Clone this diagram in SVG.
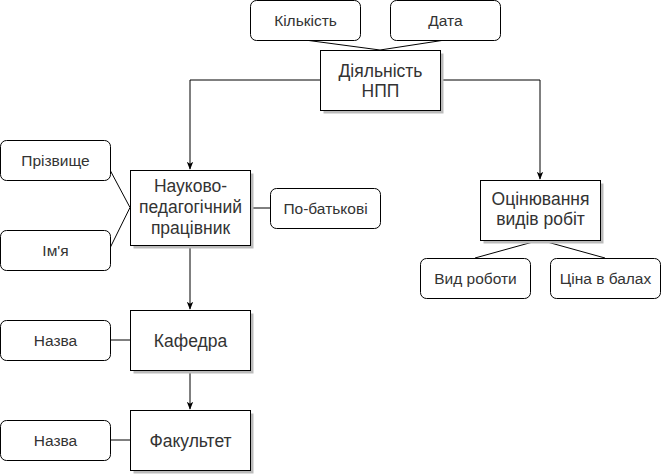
<svg xmlns="http://www.w3.org/2000/svg" width="661" height="474" viewBox="0 0 661 474">
<defs>
<style>
.ent{fill:#fff;stroke:#000;stroke-width:1}
.sh{fill:#bbb;stroke:none}
.att{fill:#fff;stroke:#000;stroke-width:1}
.t1{font-family:"Liberation Sans",Arial,sans-serif;font-size:17.5px;fill:#333;text-anchor:middle}
.t2{font-family:"Liberation Sans",Arial,sans-serif;font-size:15.5px;fill:#333;text-anchor:middle}
.c{fill:none;stroke:#000;stroke-width:1}
</style>
<marker id="arr" viewBox="0 0 10 10" refX="9" refY="5" markerWidth="8" markerHeight="8" markerUnits="userSpaceOnUse" orient="auto">
<path d="M0,1 L10,5 L0,9 L2.5,5 Z" fill="#000"/>
</marker>
</defs>
<rect width="661" height="474" fill="#fff"/>
<g id="connectors">
<path class="c" d="M305,40 L380,50"/>
<path class="c" d="M445,40 L380,50"/>
<path class="c" d="M320,80 L190,80 L190,169" marker-end="url(#arr)"/>
<path class="c" d="M440,80 L540,80 L540,179" marker-end="url(#arr)"/>
<path class="c" d="M110,170 L130,207.5"/>
<path class="c" d="M110,248 L130,207.5"/>
<path class="c" d="M250,208 L270,208"/>
<path class="c" d="M190,245 L190,309" marker-end="url(#arr)"/>
<path class="c" d="M190,370 L190,409" marker-end="url(#arr)"/>
<path class="c" d="M110,340 L130,340"/>
<path class="c" d="M110,440 L130,440"/>
<path class="c" d="M540,240 L475,258"/>
<path class="c" d="M540,240 L605,258"/>
</g>
<g id="kilkist"><rect class="att" x="250.5" y="0.5" width="110" height="40" rx="6"/><text class="t2" x="305.5" y="25.5">Кількість</text></g>
<g id="data"><rect class="att" x="390.5" y="0.5" width="110" height="40" rx="6"/><text class="t2" x="445.5" y="25.5">Дата</text></g>
<g id="diyalnist"><rect class="sh" x="323.5" y="53.5" width="120" height="60"/><rect class="ent" x="320.5" y="50.5" width="120" height="60"/><text class="t1" x="380.5" y="77">Діяльність</text><text class="t1" x="380.5" y="97">НПП</text></g>
<g id="npp"><rect class="sh" x="133.5" y="173.5" width="120" height="75"/><rect class="ent" x="130.5" y="170.5" width="120" height="75"/><text class="t1" x="190.5" y="192">Науково-</text><text class="t1" x="190.5" y="213">педагогічний</text><text class="t1" x="190.5" y="234">працівник</text></g>
<g id="prizvyshche"><rect class="att" x="0.5" y="140.5" width="110" height="40" rx="6"/><text class="t2" x="55.5" y="165.5">Прізвище</text></g>
<g id="imya"><rect class="att" x="0.5" y="230.5" width="110" height="40" rx="6"/><text class="t2" x="55.5" y="255.5">Ім'я</text></g>
<g id="pobatkovi"><rect class="att" x="270.5" y="188.5" width="110" height="40" rx="6"/><text class="t2" x="325.5" y="213.5">По-батькові</text></g>
<g id="ocinyuvannya"><rect class="sh" x="483.5" y="183.5" width="120" height="60"/><rect class="ent" x="480.5" y="180.5" width="120" height="60"/><text class="t1" x="540.5" y="205">Оцінювання</text><text class="t1" x="540.5" y="225">видів робіт</text></g>
<g id="vyd"><rect class="att" x="420.5" y="258.5" width="110" height="40" rx="6"/><text class="t2" x="475.5" y="283.5">Вид роботи</text></g>
<g id="cina"><rect class="att" x="550.5" y="258.5" width="110" height="40" rx="6"/><text class="t2" x="605.5" y="283.5">Ціна в балах</text></g>
<g id="kafedra"><rect class="sh" x="133.5" y="313.5" width="120" height="60"/><rect class="ent" x="130.5" y="310.5" width="120" height="60"/><text class="t1" x="190.5" y="346.5">Кафедра</text></g>
<g id="nazva1"><rect class="att" x="0.5" y="320.5" width="110" height="40" rx="6"/><text class="t2" x="55.5" y="345.5">Назва</text></g>
<g id="fakultet"><rect class="sh" x="133.5" y="413.5" width="120" height="60"/><rect class="ent" x="130.5" y="410.5" width="120" height="60"/><text class="t1" x="190.5" y="446.5">Факультет</text></g>
<g id="nazva2"><rect class="att" x="0.5" y="420.5" width="110" height="40" rx="6"/><text class="t2" x="55.5" y="445.5">Назва</text></g>
</svg>
